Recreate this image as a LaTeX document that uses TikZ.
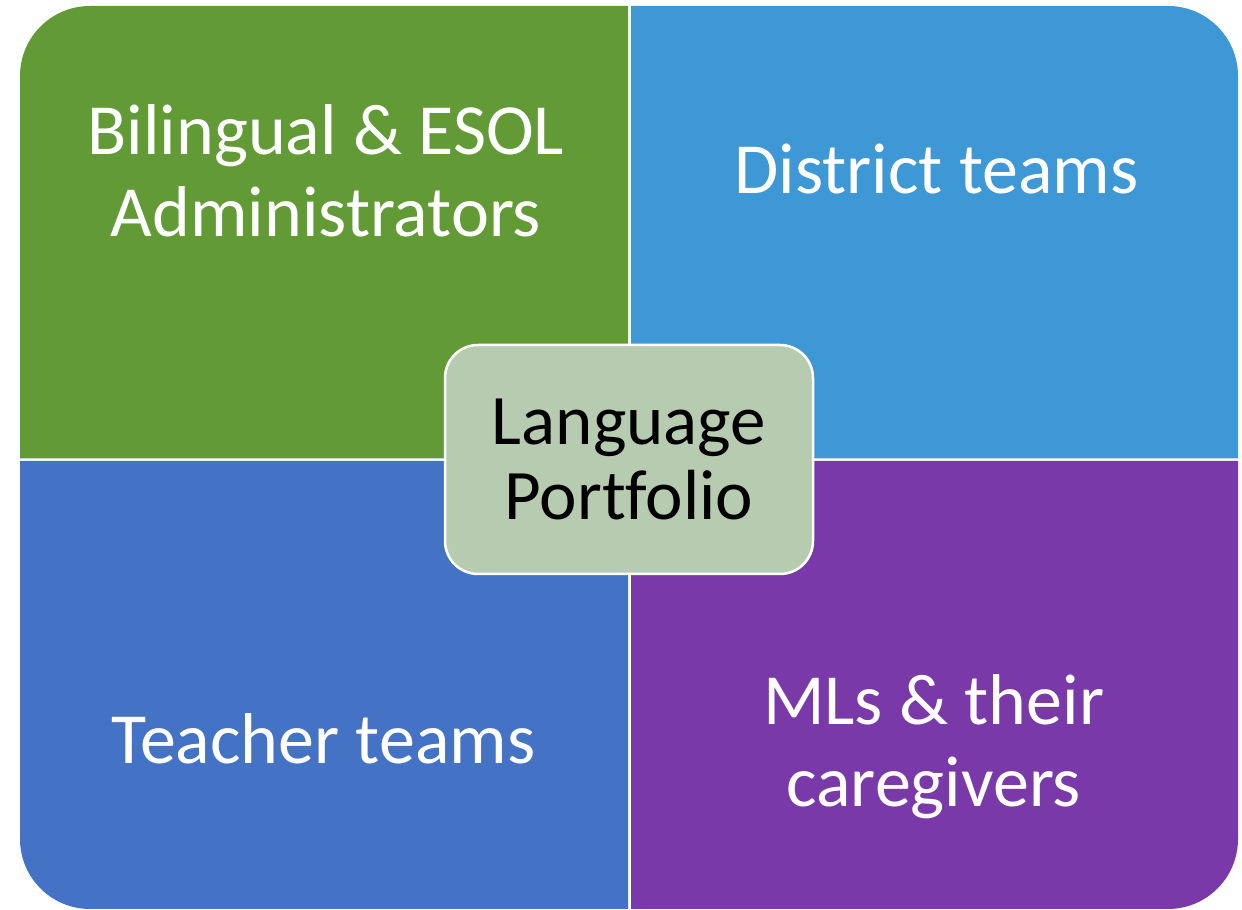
\documentclass[tikz,border=0pt]{standalone}
\usepackage{fontspec}
\setmainfont{Carlito}[Ligatures=NoCommon]
\usepackage{xcolor}
\usepackage{tikz}
\usetikzlibrary{positioning}

\definecolor{quadgreen}{HTML}{629B35}
\definecolor{quadsky}{HTML}{3E98D5}
\definecolor{quadblue}{HTML}{4472C4}
\definecolor{quadpurple}{HTML}{7939A9}
\definecolor{hubgreen}{HTML}{B6CBAF}

\begin{document}
\begin{tikzpicture}[
  x=1pt,y=1pt,
  quadtext/.style={text=white,align=center,inner sep=0pt,font=\fontsize{72}{81.7}\selectfont},
  hub/.style={draw=white,line width=2.5pt,rounded corners=33pt,fill=hubgreen,
    minimum width=368pt,minimum height=229pt,align=center,inner sep=0pt,
    font=\fontsize{71}{75}\selectfont},
]
\useasboundingbox (0,0) rectangle (1242,910);

% four quarters of one big rounded square
\fill[quadgreen]  (628,451.5) -- (20,451.5) -- (20,834) arc[start angle=180,end angle=90,radius=70] -- (628,904) -- cycle;
\fill[quadsky]    (631,451.5) -- (631,904) -- (1168,904) arc[start angle=90,end angle=0,radius=70] -- (1238,451.5) -- cycle;
\fill[quadblue]   (20,449) -- (628,449) -- (628,1) -- (90,1) arc[start angle=270,end angle=180,radius=70] -- cycle;
\fill[quadpurple] (631,449) -- (1238,449) -- (1238,71) arc[start angle=0,end angle=-90,radius=70] -- (701,1) -- (631,1) -- cycle;

% anchor=base sits on the last line
\node[quadtext,anchor=base] (admins)   at (326,673.3) {Bilingual \& ESOL\\Administrators};
\node[quadtext,anchor=base] (district) at (936.5,716) {District teams};
\node[quadtext,anchor=base] (teachers) at (323.3,146) {Teacher teams};
\node[quadtext,anchor=base] (mls)      at (933.7,103.3) {MLs \& their\\caregivers};

\node[hub] (portfolio) at (629,450.5) {Language\\Portfolio};
\end{tikzpicture}
\end{document}
